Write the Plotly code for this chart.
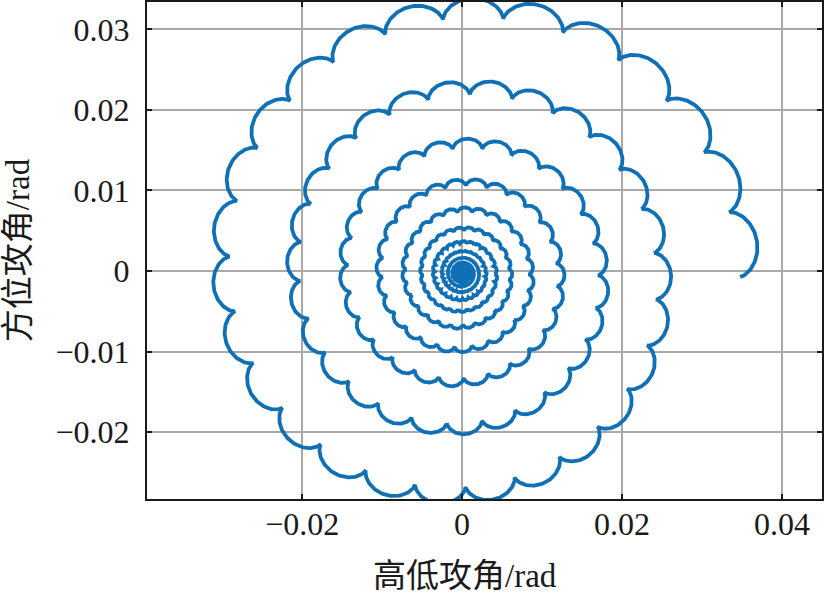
import numpy as np
import plotly.graph_objects as go

# ---- values (tricyclic-like angle-of-attack trajectory) ----
slow_amplitude = [0.0360]          # rad, amplitude of the slow (precession) mode at start
decay_per_revolution = [0.70]      # ratio of slow-mode amplitude after each revolution
fast_to_slow_freq = [27.5]         # nutation / precession frequency ratio (≈26.5 scallops per turn)
fast_rel_amplitude = [1 / 27.5]    # nutation amplitude relative to precession amplitude
start_rel_phase = [np.pi + 0.35]   # relative phase of the fast mode at start
center = [0.0, -0.0003]            # convergence point (elevation, azimuth) in rad
revolutions = [16]

x_ticks = [-0.02, 0.0, 0.02, 0.04]
x_tick_text = ["\u22120.02", "0", "0.02", "0.04"]
y_ticks = [-0.02, -0.01, 0.0, 0.01, 0.02, 0.03]
y_tick_text = ["\u22120.02", "\u22120.01", "0", "0.01", "0.02", "0.03"]
x_title = "高低攻角/rad"
y_title = "方位攻角/rad"

# ---- build trajectory from the mode parameters ----
n_pts = int(revolutions[0] * fast_to_slow_freq[0] * 90)
t = np.linspace(0.0, 2 * np.pi * revolutions[0], n_pts)
lam = -np.log(decay_per_revolution[0]) / (2 * np.pi)
amp = slow_amplitude[0] * np.exp(-lam * t)
z = amp * (np.exp(1j * t)
           + fast_rel_amplitude[0] * np.exp(1j * (fast_to_slow_freq[0] * t + start_rel_phase[0])))
x = z.real + center[0]
y = z.imag + center[1]

fig = go.Figure()
fig.add_trace(go.Scatter(x=x, y=y, mode="lines",
                         line=dict(color="#1070b5", width=3.8),
                         hoverinfo="skip", showlegend=False))

font_family = "Liberation Serif, Times New Roman, Noto Sans CJK SC, serif"
axis_common = dict(
    showgrid=True, gridcolor="#a9a9a9", gridwidth=1.6,
    zeroline=False, automargin=False,
    showline=True, linecolor="#1a1a1a", linewidth=2, mirror="ticks",
    ticks="inside", ticklen=5, tickwidth=1.5, tickcolor="#1a1a1a",
    tickfont=dict(family=font_family, size=32, color="#1a1a1a"),
)
fig.update_layout(
    width=826, height=598,
    margin=dict(l=147, r=4, t=2, b=99),
    paper_bgcolor="white", plot_bgcolor="white",
    font=dict(family=font_family, color="#1a1a1a"),
    xaxis=dict(range=[-0.0394, 0.0450], tickvals=x_ticks, ticktext=x_tick_text,
               ticklabelstandoff=-4, **axis_common),
    yaxis=dict(range=[-0.0283, 0.0334], tickvals=y_ticks, ticktext=y_tick_text,
               ticklabelstandoff=9,
               title=dict(text=y_title, font=dict(family=font_family, size=33), standoff=22),
               **axis_common),
    annotations=[dict(text=x_title, xref="paper", yref="paper",
                      x=0.471, y=-0.155, xanchor="center", yanchor="middle",
                      showarrow=False, font=dict(family=font_family, size=33, color="#1a1a1a"))],
)
fig.write_html("out.html", config={"displayModeBar": False},
               post_script="document.body.style.margin='0';document.body.style.padding='0';")
